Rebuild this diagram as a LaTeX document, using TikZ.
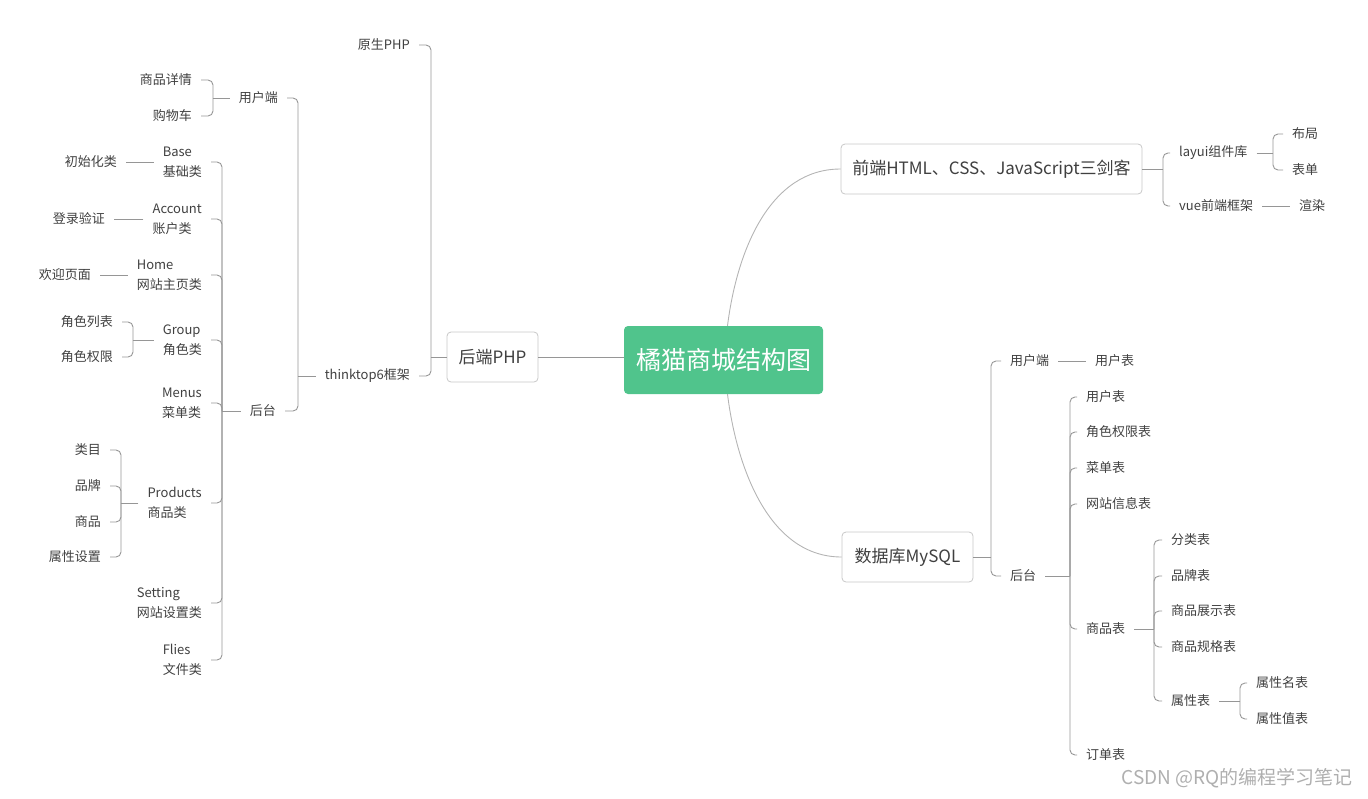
\documentclass[tikz,border=0pt]{standalone}
\usepackage{fontspec}
\setmainfont{Noto Sans CJK SC}
\usepackage{tikz}
\usetikzlibrary{shapes}
\definecolor{rootgreen}{RGB}{80,196,140}
\definecolor{linegray}{RGB}{150,150,150}
\definecolor{curvegray}{RGB}{180,180,180}
\definecolor{boxgray}{RGB}{200,200,200}
\definecolor{txtgray}{RGB}{64,64,64}
\definecolor{markgray}{RGB}{175,175,175}
\tikzstyle{root} = [rectangle, rounded corners=4pt, fill=rootgreen, text=white, minimum width=199pt, minimum height=68pt, font=\fontsize{25}{30}\selectfont]
\tikzstyle{branch} = [rectangle, rounded corners=4pt, draw=boxgray, line width=0.8pt, fill=white, minimum height=50pt, text=txtgray, font=\fontsize{17}{20}\selectfont]
\tikzstyle{leaf} = [inner xsep=9pt, inner ysep=2pt, text=txtgray, align=left, font=\fontsize{13}{20}\selectfont]
\tikzstyle{link} = [draw=linegray, line width=0.9pt, rounded corners=5pt]
\tikzstyle{curve} = [draw=curvegray, line width=0.9pt]

\begin{document}
\begin{tikzpicture}[x=1pt, y=-1pt]
\useasboundingbox (0,0) rectangle (1368,798);

% Main nodes
\node (mall) [root] at (723.5,360) {橘猫商城结构图};
\node (backend) [branch, minimum width=91pt] at (492.5,357) {后端PHP};
\node (frontend) [branch, minimum width=301pt] at (991.5,169) {前端HTML、CSS、JavaScript三剑客};
\node (database) [branch, minimum width=131pt] at (907.5,557) {数据库MySQL};

% Backend side (left)
\node (native) [leaf, anchor=east] at (419,45) {原生PHP};
\node (tpsix) [leaf, anchor=east] at (419,376) {thinktop6框架};
\node (beuser) [leaf, anchor=east] at (287,98) {用户端};
\node (beadmin) [leaf, anchor=east] at (285,411) {后台};
\node (detail) [leaf, anchor=east] at (201,80) {商品详情};
\node (cart) [leaf, anchor=east] at (201,116) {购物车};
\node (base) [leaf, anchor=east] at (211,162) {Base\\基础类};
\node (account) [leaf, anchor=east] at (211,219) {Account\\账户类};
\node (home) [leaf, anchor=east] at (211,275) {Home\\网站主页类};
\node (group) [leaf, anchor=east] at (211,340) {Group\\角色类};
\node (menus) [leaf, anchor=east] at (211,403) {Menus\\菜单类};
\node (products) [leaf, anchor=east] at (211,503) {Products\\商品类};
\node (setting) [leaf, anchor=east] at (211,603) {Setting\\网站设置类};
\node (flies) [leaf, anchor=east] at (211,660) {Flies\\文件类};
\node (init) [leaf, anchor=east] at (126,162) {初始化类};
\node (login) [leaf, anchor=east] at (114,219) {登录验证};
\node (welcome) [leaf, anchor=east] at (100,275) {欢迎页面};
\node (rolelist) [leaf, anchor=east] at (122,322) {角色列表};
\node (roleperm) [leaf, anchor=east] at (122,357) {角色权限};
\node (catalog) [leaf, anchor=east] at (110,450) {类目};
\node (brand) [leaf, anchor=east] at (110,486) {品牌};
\node (goods) [leaf, anchor=east] at (110,522) {商品};
\node (attrset) [leaf, anchor=east] at (110,557) {属性设置};

% Frontend side (right, top)
\node (layui) [leaf, anchor=west] at (1170,153) {layui组件库};
\node (vue) [leaf, anchor=west] at (1170,206) {vue前端框架};
\node (layout) [leaf, anchor=west] at (1283,134) {布局};
\node (form) [leaf, anchor=west] at (1283,170) {表单};
\node (render) [leaf, anchor=west] at (1290,206) {渲染};

% Database side (right, bottom)
\node (dbuser) [leaf, anchor=west] at (1001,361) {用户端};
\node (usertab) [leaf, anchor=west] at (1086,361) {用户表};
\node (dbadmin) [leaf, anchor=west] at (1001,576) {后台};
\node (adminuser) [leaf, anchor=west] at (1077,397) {用户表};
\node (roletab) [leaf, anchor=west] at (1077,432) {角色权限表};
\node (menutab) [leaf, anchor=west] at (1077,468) {菜单表};
\node (sitetab) [leaf, anchor=west] at (1077,504) {网站信息表};
\node (goodstab) [leaf, anchor=west] at (1077,629) {商品表};
\node (ordertab) [leaf, anchor=west] at (1077,755) {订单表};
\node (cattab) [leaf, anchor=west] at (1162,540) {分类表};
\node (brandtab) [leaf, anchor=west] at (1162,576) {品牌表};
\node (showtab) [leaf, anchor=west] at (1162,611) {商品展示表};
\node (spectab) [leaf, anchor=west] at (1162,647) {商品规格表};
\node (attrtab) [leaf, anchor=west] at (1162,701) {属性表};
\node (attrname) [leaf, anchor=west] at (1247,683) {属性名表};
\node (attrval) [leaf, anchor=west] at (1247,719) {属性值表};

\node (mark) [anchor=east, inner sep=0pt, text=markgray, font=\fontsize{19}{22}\selectfont] at (1353,778) {CSDN @RQ的编程学习笔记};

% Spine points
\coordinate (jback) at (431,357);
\coordinate (jtp) at (298,376);
\coordinate (jbeuser) at (213,98);
\coordinate (jbeadmin) at (222,411);
\coordinate (jgroup) at (133,340);
\coordinate (jprod) at (121,503);
\coordinate (jfront) at (1163,169);
\coordinate (jlayui) at (1273,153);
\coordinate (jdb) at (991,557);
\coordinate (jdbadmin) at (1070,576);
\coordinate (jgoods) at (1154,629);
\coordinate (jattr) at (1240,701);

% Lines
\draw [curve] ([xshift=4pt]mall.north) .. controls (737,250) and (770,169) .. (frontend.west);
\draw [curve] ([xshift=4pt]mall.south) .. controls (737,470) and (770,557) .. (database.west);
\draw [link] (backend.east) -- (mall.west |- backend.east);

\draw [link] (backend.west) -- (jback);
\draw [link] (jback) |- (native.east);
\draw [link] (jback) |- (tpsix.east);
\draw [link] (tpsix.west) -- (jtp);
\draw [link] (jtp) |- (beuser.east);
\draw [link] (jtp) |- (beadmin.east);
\draw [link] (beuser.west) -- (jbeuser);
\draw [link] (jbeuser) |- (detail.east);
\draw [link] (jbeuser) |- (cart.east);
\draw [link] (beadmin.west) -- (jbeadmin);
\draw [link] (jbeadmin) |- (base.east);
\draw [link] (jbeadmin) |- (account.east);
\draw [link] (jbeadmin) |- (home.east);
\draw [link] (jbeadmin) |- (group.east);
\draw [link] (jbeadmin) |- (menus.east);
\draw [link] (jbeadmin) |- (products.east);
\draw [link] (jbeadmin) |- (setting.east);
\draw [link] (jbeadmin) |- (flies.east);
\draw [link] (base.west) -- (init.east);
\draw [link] (account.west) -- (login.east);
\draw [link] (home.west) -- (welcome.east);
\draw [link] (group.west) -- (jgroup);
\draw [link] (jgroup) |- (rolelist.east);
\draw [link] (jgroup) |- (roleperm.east);
\draw [link] (products.west) -- (jprod);
\draw [link] (jprod) |- (catalog.east);
\draw [link] (jprod) |- (brand.east);
\draw [link] (jprod) |- (goods.east);
\draw [link] (jprod) |- (attrset.east);

\draw [link] (frontend.east) -- (jfront);
\draw [link] (jfront) |- (layui.west);
\draw [link] (jfront) |- (vue.west);
\draw [link] (layui.east) -- (jlayui);
\draw [link] (jlayui) |- (layout.west);
\draw [link] (jlayui) |- (form.west);
\draw [link] (vue.east) -- (render.west);

\draw [link] (database.east) -- (jdb);
\draw [link] (jdb) |- (dbuser.west);
\draw [link] (jdb) |- (dbadmin.west);
\draw [link] (dbuser.east) -- (usertab.west);
\draw [link] (dbadmin.east) -- (jdbadmin);
\draw [link] (jdbadmin) |- (adminuser.west);
\draw [link] (jdbadmin) |- (roletab.west);
\draw [link] (jdbadmin) |- (menutab.west);
\draw [link] (jdbadmin) |- (sitetab.west);
\draw [link] (jdbadmin) |- (goodstab.west);
\draw [link] (jdbadmin) |- (ordertab.west);
\draw [link] (goodstab.east) -- (jgoods);
\draw [link] (jgoods) |- (cattab.west);
\draw [link] (jgoods) |- (brandtab.west);
\draw [link] (jgoods) |- (showtab.west);
\draw [link] (jgoods) |- (spectab.west);
\draw [link] (jgoods) |- (attrtab.west);
\draw [link] (attrtab.east) -- (jattr);
\draw [link] (jattr) |- (attrname.west);
\draw [link] (jattr) |- (attrval.west);

\end{tikzpicture}
\end{document}
